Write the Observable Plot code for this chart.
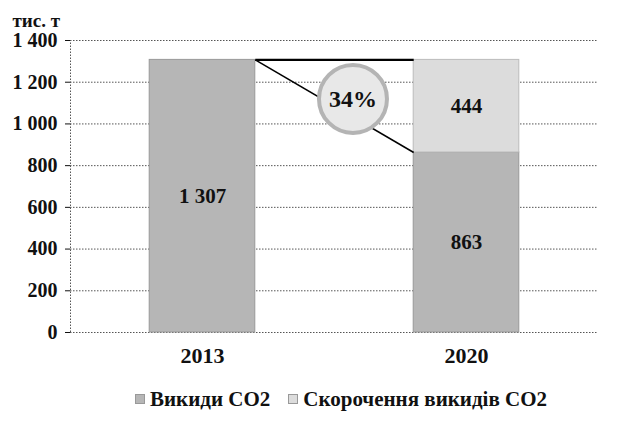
<!DOCTYPE html>
<html><head><meta charset="utf-8">
<script src="https://cdn.jsdelivr.net/npm/d3@7"></script>
<script src="https://cdn.jsdelivr.net/npm/@observablehq/plot@0.6"></script>
<style>
body{margin:0;background:#fff;font-family:"Liberation Serif","Times New Roman",serif;}
#legend{display:flex;gap:18px;justify-content:center;font-weight:bold;font-size:21px;line-height:24px;margin-top:12px;padding-left:58px;color:#111;}
#legend span.sw{display:inline-block;width:8px;height:8px;margin-right:5px;border:1px solid #999;vertical-align:2px;}
</style></head>
<body>
<div id="chart"></div>
<script>
const years = ["2013", "2020"];
const emissions = [1307, 863];
const reductions = [0, 444];
const yTicks = [0, 200, 400, 600, 800, 1000, 1200, 1400];
const unitLabel = "тис. т";
const seriesNames = ["Викиди СО2", "Скорочення викидів СО2"];
const percentLabel = "34%";

const colEmis = "#b6b6b6", colRed = "#dcdcdc";
const hw = 0.2; // half bar width in x units
const rows = years.map((y, i) => ({i, year: y, emis: emissions[i], red: reductions[i]}));
const total = emissions[1] + reductions[1];
const fmt = d => d3.format(",")(d).replace(/,/g, " ");
const serif = "'Liberation Serif', 'Times New Roman', serif";

const plot = Plot.plot({
  width: 624, height: 375,
  marginLeft: 70, marginRight: 26, marginTop: 40, marginBottom: 43,
  style: {fontFamily: serif, fontSize: "20px", fontWeight: "bold", color: "#111", background: "#fff"},
  x: {domain: [-0.5, 1.5], label: null},
  y: {domain: [0, 1400], label: null},
  marks: [
    Plot.axisX({ticks: [0, 1], tickFormat: i => years[i], tickSize: 0, tickPadding: 15, fontSize: 22, label: null}),
    Plot.axisY({ticks: yTicks, tickFormat: fmt, tickSize: 5, tickPadding: 8, fontSize: 20, label: null}),
    Plot.ruleY(yTicks, {stroke: "#555", strokeWidth: 1, strokeDasharray: "1.5,1.5"}),
    Plot.ruleX([-0.5], {y1: 0, y2: 1400, stroke: "#555", strokeDasharray: "1.5,1.5"}),
    Plot.rectY(rows, {x1: d => d.i - hw, x2: d => d.i + hw, y1: 0, y2: "emis", fill: colEmis, stroke: "#999", strokeWidth: 1}),
    Plot.rectY(rows.filter(d => d.red > 0), {x1: d => d.i - hw, x2: d => d.i + hw, y1: "emis", y2: d => d.emis + d.red, fill: colRed, stroke: "#bbb", strokeWidth: 1}),
    Plot.link([0], {x1: hw, y1: emissions[0], x2: 1 - hw, y2: total, stroke: "#000", strokeWidth: 2.2}),
    Plot.link([0], {x1: hw, y1: emissions[0], x2: 1 - hw, y2: emissions[1], stroke: "#000", strokeWidth: 1.5}),
    Plot.dot([0], {x: 0.57, y: 1120, r: 34, fill: "#e8e8e8", stroke: "#b4b4b4", strokeWidth: 4}),
    Plot.text([percentLabel], {x: 0.57, y: 1120, text: d => d, fontSize: 24, fontWeight: "bold", fill: "#111"}),
    Plot.text(rows, {x: "i", y: d => d.emis / 2, text: d => fmt(d.emis), fontSize: 21, fontWeight: "bold", fill: "#111"}),
    Plot.text(rows.filter(d => d.red > 0), {x: "i", y: d => d.emis + d.red / 2, text: d => fmt(d.red), fontSize: 21, fontWeight: "bold", fill: "#111"}),
    Plot.text([unitLabel], {frameAnchor: "top-left", text: d => d, dx: -58, dy: -27, textAnchor: "start", fontSize: 19, fontWeight: "bold", fill: "#111"})
  ]
});
document.getElementById("chart").appendChild(plot);

const leg = document.createElement("div");
leg.id = "legend";
[colEmis, colRed].forEach((c, k) => {
  const item = document.createElement("div");
  const sw = document.createElement("span");
  sw.className = "sw"; sw.style.background = c;
  item.appendChild(sw);
  item.appendChild(document.createTextNode(seriesNames[k]));
  leg.appendChild(item);
});
document.body.appendChild(leg);
</script>
</body></html>
